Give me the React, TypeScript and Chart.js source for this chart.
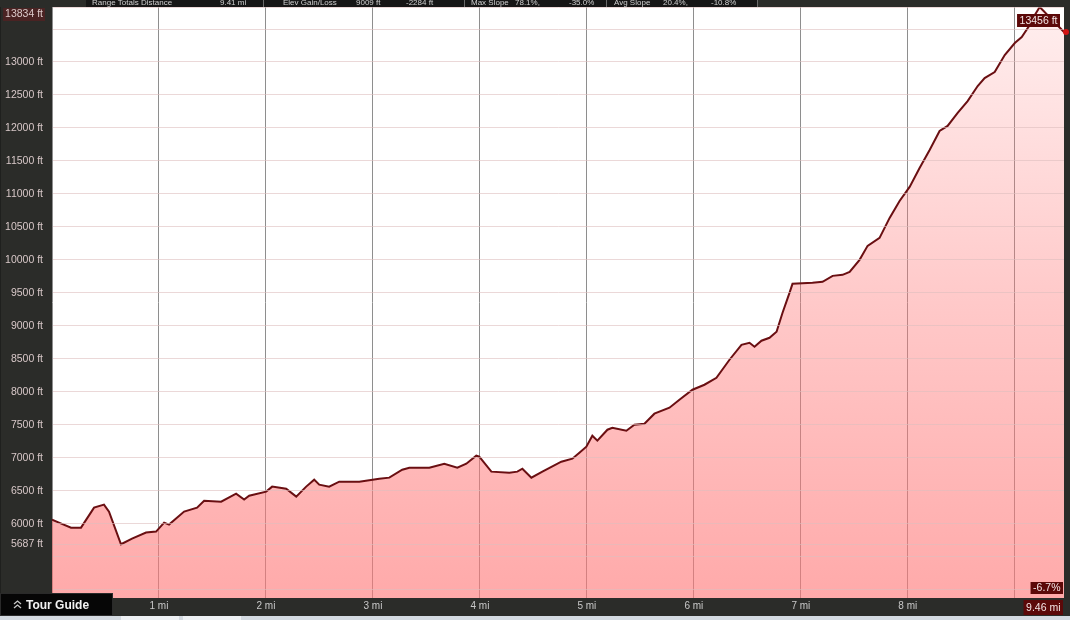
import React, { useEffect, useRef } from 'react';
import { Chart, registerables } from 'chart.js';

Chart.register(...registerables);

// ---- data ----
const distanceMi = [
  0.0, 0.065, 0.178, 0.271, 0.393, 0.486, 0.533, 0.645, 0.748, 0.879,
  0.973, 1.048, 1.094, 1.235, 1.356, 1.422, 1.581, 1.721, 1.796, 1.843,
  2.002, 2.058, 2.189, 2.283, 2.376, 2.451, 2.498, 2.591, 2.685, 2.872,
  3.059, 3.153, 3.274, 3.34, 3.527, 3.667, 3.789, 3.873, 3.966, 3.994,
  4.107, 4.275, 4.35, 4.397, 4.481, 4.584, 4.761, 4.864, 4.93, 4.995,
  5.051, 5.098, 5.192, 5.238, 5.369, 5.444, 5.538, 5.631, 5.772, 5.865,
  5.987, 6.099, 6.211, 6.333, 6.445, 6.52, 6.567, 6.632, 6.707, 6.773,
  6.829, 6.894, 6.922, 7.109, 7.203, 7.297, 7.39, 7.456, 7.549, 7.624,
  7.736, 7.83, 7.923, 8.017, 8.11, 8.204, 8.297, 8.372, 8.466, 8.559,
  8.653, 8.718, 8.812, 8.906, 9.0, 9.065, 9.14, 9.186, 9.233, 9.46,
];

const elevationFt = [
  6061, 6015, 5939, 5939, 6242, 6288, 6182, 5687, 5773, 5864,
  5879, 6015, 5985, 6182, 6242, 6348, 6333, 6455, 6364, 6424,
  6485, 6561, 6530, 6409, 6561, 6667, 6591, 6561, 6636, 6636,
  6682, 6697, 6818, 6848, 6848, 6909, 6848, 6909, 7030, 7015,
  6788, 6773, 6788, 6833, 6697, 6788, 6939, 6985, 7076, 7167,
  7333, 7258, 7424, 7454, 7409, 7500, 7515, 7667, 7757, 7879,
  8030, 8106, 8212, 8485, 8712, 8742, 8682, 8773, 8818, 8909,
  9197, 9500, 9636, 9651, 9666, 9757, 9772, 9818, 10000, 10212,
  10333, 10636, 10893, 11106, 11393, 11666, 11954, 12030, 12227, 12408,
  12636, 12757, 12848, 13105, 13287, 13378, 13560, 13711, 13834, 13456,
];

const yTickValues = [
  5000, 5500, 5687, 6000, 6500, 7000, 7500, 8000, 8500, 9000, 9500,
  10000, 10500, 11000, 11500, 12000, 12500, 13000, 13500, 13834,
];
const yTickLabels = [
  '', '', '5687 ft', '6000 ft', '6500 ft', '7000 ft', '7500 ft', '8000 ft', '8500 ft',
  '9000 ft', '9500 ft', '10000 ft', '10500 ft', '11000 ft', '11500 ft', '12000 ft',
  '12500 ft', '13000 ft', '', '',
];
const xTickValues = [0, 1, 2, 3, 4, 5, 6, 7, 8, 9];
const xTickLabels = ['', '1 mi', '2 mi', '3 mi', '4 mi', '5 mi', '6 mi', '7 mi', '8 mi', ''];

const Y_MIN = 4872;
const Y_MAX = 13834;
const X_MAX = 9.46;

const maxElevLabel = '13834 ft';
const cursorElevLabel = '13456 ft';
const cursorSlopeLabel = '-6.7%';
const cursorDistLabel = '9.46 mi';
const tourGuideLabel = 'Tour Guide';

const headerItems = [
  { text: 'Range Totals', x: 92 },
  { text: 'Distance', x: 141 },
  { text: '9.41 mi', x: 220 },
  { text: 'Elev Gain/Loss', x: 283 },
  { text: '9009 ft', x: 356 },
  { text: '-2284 ft', x: 406 },
  { text: 'Max Slope', x: 471 },
  { text: '78.1%,', x: 515 },
  { text: '-35.0%', x: 569 },
  { text: 'Avg Slope', x: 614 },
  { text: '20.4%,', x: 663 },
  { text: '-10.8%', x: 711 },
];
const headerSeparators = [263, 464, 606, 757];

const FONT = '"Liberation Sans", Arial, sans-serif';

function drawBox(ctx: CanvasRenderingContext2D, text: string, right: number, top: number, h: number, font: string) {
  ctx.font = font;
  const w = ctx.measureText(text).width + 5;
  ctx.fillStyle = '#5c0909';
  ctx.fillRect(right - w, top, w, h);
  ctx.fillStyle = '#f3e4e4';
  ctx.textAlign = 'center';
  ctx.textBaseline = 'middle';
  ctx.fillText(text, right - w / 2, top + h / 2 + 0.5);
}

const framePlugin = {
  id: 'frame',
  beforeDraw(chart: any) {
    const { ctx, chartArea: a, width, height } = chart;
    ctx.save();
    ctx.fillStyle = '#2b2c29';
    ctx.fillRect(0, 0, width, height);
    ctx.fillStyle = '#ffffff';
    ctx.fillRect(a.left, a.top, a.right - a.left, a.bottom - a.top);
    ctx.restore();
  },
  afterDraw(chart: any) {
    const { ctx, chartArea: a, width, height } = chart;
    const xs = chart.scales.x;
    const ys = chart.scales.y;
    ctx.save();

    // header strip (mostly cut off at the top of the picture)
    ctx.fillStyle = '#161616';
    ctx.fillRect(86, 0, 757 - 86, a.top);
    ctx.strokeStyle = '#6a6a6a';
    ctx.lineWidth = 1;
    headerSeparators.forEach((sx) => {
      ctx.beginPath();
      ctx.moveTo(sx + 0.5, 0);
      ctx.lineTo(sx + 0.5, a.top);
      ctx.stroke();
    });
    ctx.save();
    ctx.beginPath();
    ctx.rect(0, 0, width, a.top);
    ctx.clip();
    ctx.fillStyle = '#cfcfcf';
    ctx.font = `8px ${FONT}`;
    ctx.textAlign = 'left';
    ctx.textBaseline = 'alphabetic';
    headerItems.forEach((h) => ctx.fillText(h.text, h.x, 4.5));
    ctx.restore();

    // max elevation label on the left axis
    ctx.font = `10.5px ${FONT}`;
    const mw = ctx.measureText(maxElevLabel).width;
    ctx.fillStyle = '#4a2323';
    ctx.fillRect(43 - mw - 2, 8, mw + 4, 13);
    ctx.fillStyle = '#dccaca';
    ctx.textAlign = 'right';
    ctx.textBaseline = 'middle';
    ctx.fillText(maxElevLabel, 43, 14.5);

    // cursor at the end of the track
    const last = elevationFt.length - 1;
    const cx = xs.getPixelForValue(distanceMi[last]);
    const cy = ys.getPixelForValue(elevationFt[last]);
    drawBox(ctx, cursorElevLabel, cx - 4, a.top + 7, 13, `10.5px ${FONT}`);
    drawBox(ctx, cursorSlopeLabel, cx - 1, a.bottom - 16, 12, `10.5px ${FONT}`);
    drawBox(ctx, cursorDistLabel, cx - 1, a.bottom + 2, 15, `10.5px ${FONT}`);
    ctx.fillStyle = '#d21414';
    ctx.beginPath();
    ctx.arc(cx + 2, cy, 3, 0, Math.PI * 2);
    ctx.fill();

    // bottom light strip
    ctx.fillStyle = '#d4dae1';
    ctx.fillRect(0, 616, width, height - 616);
    ctx.fillStyle = '#eef1f4';
    ctx.fillRect(121, 616, 58, height - 616);
    ctx.fillRect(183, 616, 58, height - 616);

    // Tour Guide button
    ctx.fillStyle = '#060606';
    ctx.fillRect(0, 593, 113, 23);
    ctx.strokeStyle = '#2a2a2a';
    ctx.strokeRect(0.5, 593.5, 112, 22);
    ctx.strokeStyle = '#c8c8c8';
    ctx.lineWidth = 1.3;
    [601, 605].forEach((yy) => {
      ctx.beginPath();
      ctx.moveTo(14, yy + 3);
      ctx.lineTo(17.5, yy);
      ctx.lineTo(21, yy + 3);
      ctx.stroke();
    });
    ctx.fillStyle = '#f2f2f2';
    ctx.font = `bold 12px ${FONT}`;
    ctx.textAlign = 'left';
    ctx.textBaseline = 'middle';
    ctx.fillText(tourGuideLabel, 26, 605.5);

    ctx.restore();
  },
};

export default function App() {
  const ref = useRef<HTMLCanvasElement>(null);

  useEffect(() => {
    const canvas = ref.current;
    if (!canvas) return;
    const points = distanceMi.map((d, i) => ({ x: d, y: elevationFt[i] }));
    const chart = new Chart(canvas, {
      type: 'line',
      data: {
        datasets: [
          {
            data: points,
            borderColor: '#6a0f12',
            borderWidth: 2,
            pointRadius: 0,
            tension: 0,
            fill: 'start',
            backgroundColor: (c: any) => {
              const area = c.chart.chartArea;
              if (!area) return 'rgba(255,120,120,0.4)';
              const g = c.chart.ctx.createLinearGradient(0, area.top, 0, area.bottom);
              g.addColorStop(0, 'rgba(255,120,120,0.12)');
              g.addColorStop(0.5, 'rgba(255,120,120,0.4)');
              g.addColorStop(1, 'rgba(255,120,120,0.63)');
              return g;
            },
          },
        ],
      },
      options: {
        animation: false,
        responsive: false,
        maintainAspectRatio: false,
        devicePixelRatio: 1,
        layout: { padding: { top: 7, right: 6, left: 0, bottom: 0 } },
        plugins: {
          legend: { display: false },
          tooltip: { enabled: false },
        },
        scales: {
          x: {
            type: 'linear',
            min: 0,
            max: X_MAX,
            afterBuildTicks: (scale: any) => {
              scale.ticks = xTickValues.map((v) => ({ value: v }));
            },
            afterFit: (scale: any) => {
              scale.height = 22;
              scale.paddingLeft = 0;
              scale.paddingRight = 0;
            },
            ticks: {
              autoSkip: false,
              maxRotation: 0,
              padding: 2,
              color: '#c8c8c8',
              font: { family: FONT, size: 10 },
              callback: (_v: any, i: number) => xTickLabels[i],
            },
            grid: { color: '#8e8e8e', lineWidth: 1, drawTicks: false },
            border: { display: false },
          },
          y: {
            type: 'linear',
            min: Y_MIN,
            max: Y_MAX,
            afterBuildTicks: (scale: any) => {
              scale.ticks = yTickValues.map((v) => ({ value: v }));
            },
            afterFit: (scale: any) => {
              scale.width = 52;
              scale.paddingTop = 0;
              scale.paddingBottom = 0;
            },
            ticks: {
              autoSkip: false,
              padding: 9,
              color: '#d8c8c8',
              font: { family: FONT, size: 10.5 },
              callback: (_v: any, i: number) => yTickLabels[i],
            },
            grid: { color: 'rgba(222,190,190,0.6)', lineWidth: 1, drawTicks: false, z: 1 },
            border: { display: true, color: '#151515', width: 1 },
          },
        },
      },
      plugins: [framePlugin],
    } as any);
    return () => chart.destroy();
  }, []);

  return (
    <div style={{ position: 'fixed', left: 0, top: 0, width: 1070, height: 620 }}>
      <canvas ref={ref} width={1070} height={620} style={{ display: 'block', width: 1070, height: 620 }} />
    </div>
  );
}
